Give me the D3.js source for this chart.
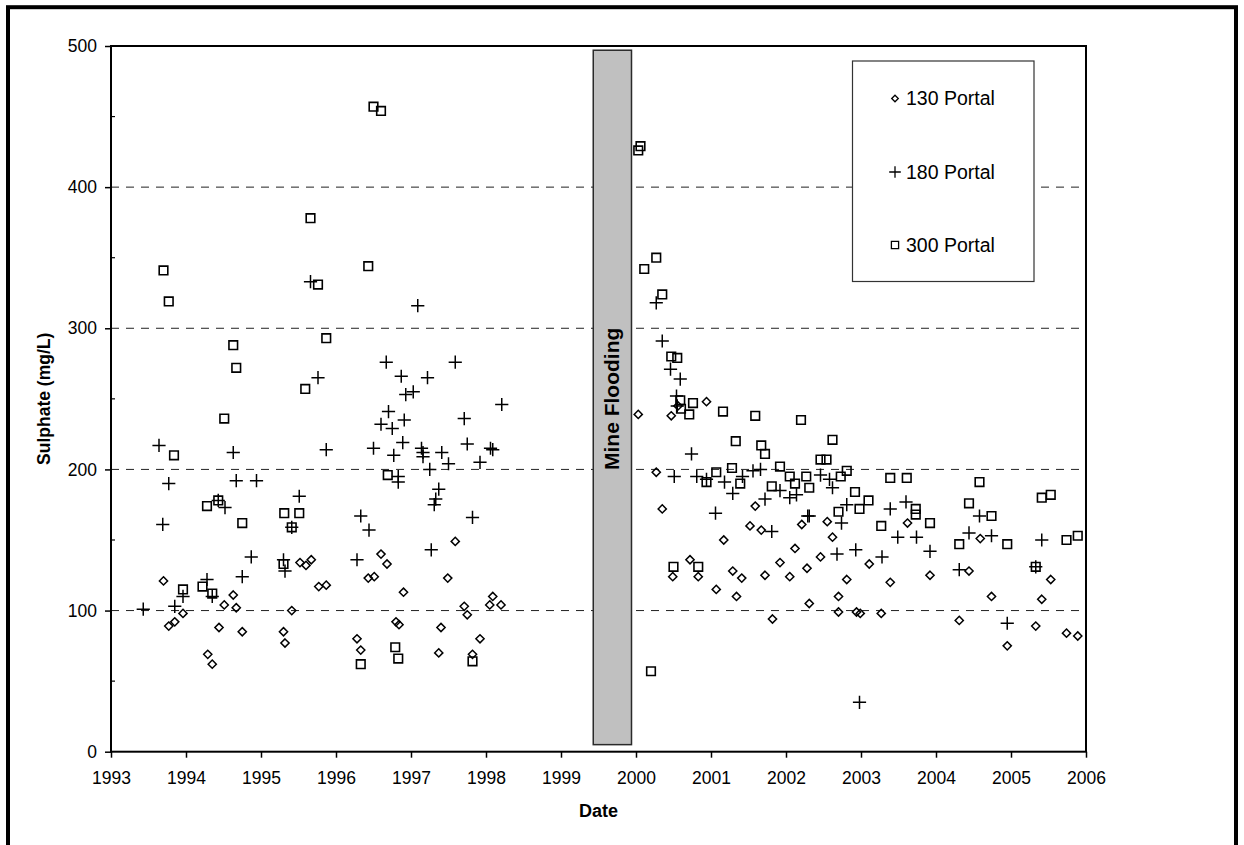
<!DOCTYPE html>
<html>
<head>
<meta charset="utf-8">
<script src="https://cdn.jsdelivr.net/npm/d3@7"></script>
<style>
  html, body { margin: 0; padding: 0; background: #fff; }
  svg { display: block; font-family: "Liberation Sans", Arial, sans-serif; }
</style>
</head>
<body>
<svg id="chart" width="1244" height="845"></svg>
<script>
// ---------- data ----------
const seriesNames = ["130 Portal", "180 Portal", "300 Portal"];

const portal130Dates = [1993.70,1993.77,1993.85,1993.96,1994.29,1994.35,1994.44,1994.51,1994.63,1994.67,1994.75,
  1995.30,1995.32,1995.41,1995.52,1995.60,1995.67,1995.77,1995.87,1996.28,1996.33,1996.43,1996.51,1996.60,1996.68,
  1996.80,1996.84,1996.90,1997.37,1997.40,1997.49,1997.59,1997.71,1997.75,1997.82,1997.92,1998.05,1998.09,1998.20,
  2000.03,2000.27,2000.35,2000.47,2000.49,2000.56,2000.72,2000.83,2000.94,2001.07,2001.17,2001.29,2001.34,2001.41,
  2001.52,2001.59,2001.67,2001.72,2001.82,2001.92,2002.05,2002.12,2002.21,2002.28,2002.31,2002.46,2002.55,2002.62,
  2002.70,2002.70,2002.81,2002.94,2002.99,2003.11,2003.27,2003.39,2003.62,2003.92,2004.31,2004.44,2004.59,2004.74,
  2004.95,2005.33,2005.41,2005.53,2005.74,2005.89];
const portal130Values = [121,89,92,98,69,62,88,104,111,102,85,
  85,77,100,134,132,136,117,118,80,72,123,124,140,133,
  92,90,113,70,88,123,149,103,97,69,80,104,110,104,
  239,198,172,238,124,245,136,124,248,115,150,128,110,123,
  160,174,157,125,94,134,124,144,161,130,105,138,163,152,
  110,99,122,99,98,133,98,120,162,125,93,128,151,110,
  75,89,108,122,84,82];

const portal180Dates = [1993.43,1993.64,1993.69,1993.77,1993.85,1993.96,1994.28,1994.35,1994.43,1994.52,1994.63,
  1994.67,1994.75,1994.87,1994.94,1995.30,1995.32,1995.41,1995.51,1995.66,1995.76,1995.87,1996.28,1996.33,1996.44,
  1996.50,1996.60,1996.67,1996.70,1996.75,1996.77,1996.83,1996.83,1996.87,1996.89,1996.91,1996.93,1997.03,1997.09,
  1997.14,1997.16,1997.16,1997.22,1997.25,1997.27,1997.31,1997.33,1997.37,1997.41,1997.50,1997.59,1997.71,1997.75,
  1997.82,1997.92,1998.06,1998.09,1998.21,
  2000.27,2000.35,2000.46,2000.51,2000.54,2000.55,2000.59,2000.74,2000.81,2000.94,2001.06,2001.18,2001.29,2001.42,
  2001.56,2001.66,2001.72,2001.81,2001.92,2002.05,2002.14,2002.29,2002.31,2002.46,2002.58,2002.62,2002.68,2002.74,
  2002.81,2002.93,2002.98,2003.28,2003.39,2003.49,2003.60,2003.74,2003.92,2004.31,2004.44,2004.58,2004.74,2004.95,
  2005.33,2005.41];
const portal180Values = [101,217,161,190,103,110,122,110,178,173,212,
  192,124,138,192,136,128,159,181,333,265,214,136,167,157,
  215,232,276,241,229,210,195,191,266,219,235,253,255,316,
  215,212,209,265,200,143,175,179,186,212,204,276,236,218,
  166,205,215,214,246,
  318,291,271,195,252,245,264,211,195,193,169,191,183,195,
  199,200,179,156,185,180,182,167,167,196,193,187,140,162,
  175,143,35,138,172,152,177,152,142,129,155,167,153,91,
  131,150];

const portal300Dates = [1993.70,1993.77,1993.84,1993.96,1994.22,1994.28,1994.35,1994.43,1994.51,1994.63,1994.67,
  1994.75,1995.30,1995.31,1995.41,1995.51,1995.59,1995.66,1995.76,1995.87,1996.33,1996.43,1996.50,1996.60,1996.69,
  1996.79,1996.83,1997.82,
  2000.03,2000.06,2000.11,2000.20,2000.27,2000.35,2000.47,2000.50,2000.55,2000.59,2000.60,2000.71,2000.76,2000.83,
  2000.94,2001.07,2001.16,2001.28,2001.33,2001.39,2001.59,2001.67,2001.72,2001.81,2001.92,2002.05,2002.12,2002.20,
  2002.27,2002.31,2002.46,2002.54,2002.62,2002.70,2002.73,2002.81,2002.92,2002.98,2003.10,2003.27,2003.39,2003.61,
  2003.73,2003.73,2003.92,2004.31,2004.44,2004.58,2004.74,2004.95,2005.33,2005.41,2005.53,2005.74,2005.89];
const portal300Values = [341,319,210,115,117,174,112,178,236,288,272,
  162,133,169,159,169,257,378,331,293,62,344,457,454,196,
  74,66,64,
  426,429,342,57,350,324,280,131,279,249,243,239,247,131,
  191,198,241,201,220,190,238,217,211,188,202,195,190,235,
  195,187,207,207,221,170,195,199,184,172,178,160,194,194,
  172,168,162,147,176,191,167,147,131,180,182,150,153];

const xTickLabels = [1993,1994,1995,1996,1997,1998,1999,2000,2001,2002,2003,2004,2005,2006];
const yTickLabels = [0,100,200,300,400,500];
const yMinorTicks = [50,150,250,350,450];
const gridValues = [100,200,300,400];
const floodPeriod = [1999.43, 1999.94];
const floodRange = [5, 497];
const floodLabel = "Mine Flooding";
const xTitle = "Date";
const yTitle = "Sulphate (mg/L)";

// ---------- layout ----------
const svg = d3.select("#chart");
const pLeft = 111, pRight = 1086, pTop = 46, pBottom = 751.7;
const x = d3.scaleLinear().domain([1993, 2006]).range([pLeft, pRight]);
const y = d3.scaleLinear().domain([0, 500]).range([pBottom, pTop]);
const FONT = '"Liberation Sans", Arial, sans-serif';

// outer frame
svg.append("rect").attr("x", 8).attr("y", 7.2).attr("width", 1228).attr("height", 900)
  .attr("fill", "none").attr("stroke", "#000").attr("stroke-width", 4);

// gridlines
svg.append("g").selectAll("line").data(gridValues).join("line")
  .attr("x1", pLeft).attr("x2", pRight)
  .attr("y1", d => y(d)).attr("y2", d => y(d))
  .attr("stroke", "#222").attr("stroke-width", 1).attr("stroke-dasharray", "8,7");

// flood box
svg.append("rect")
  .attr("x", x(floodPeriod[0])).attr("width", x(floodPeriod[1]) - x(floodPeriod[0]))
  .attr("y", y(floodRange[1])).attr("height", y(floodRange[0]) - y(floodRange[1]))
  .attr("fill", "#c0c0c0").attr("stroke", "#2a2a2a").attr("stroke-width", 1.5);
svg.append("text")
  .attr("transform", `translate(${(x(floodPeriod[0]) + x(floodPeriod[1])) / 2 + 7},${(pTop + pBottom) / 2}) rotate(-90)`)
  .attr("text-anchor", "middle")
  .attr("font-family", FONT).attr("font-weight", "bold").attr("font-size", 21)
  .attr("fill", "#000").text(floodLabel);

// marker shapes
function diamond(s) { return `M0,${-s}L${s},0L0,${s}L${-s},0Z`; }
function square(s) { return `M${-s},${-s}H${s}V${s}H${-s}Z`; }
function cross(s) { return `M${-s},0H${s}M0,${-s}V${s}`; }
const shapes = [
  {path: diamond(4.1), legend: diamond(3.3), sw: 1.5},
  {path: cross(6.6), legend: cross(5.8), sw: 1.5},
  {path: square(4.3), legend: square(3.6), sw: 1.6}
];

const seriesData = [
  d3.zip(portal130Dates, portal130Values),
  d3.zip(portal180Dates, portal180Values),
  d3.zip(portal300Dates, portal300Values)
];

seriesData.forEach((data, i) => {
  svg.append("g").selectAll("path").data(data).join("path")
    .attr("transform", d => `translate(${x(d[0])},${y(d[1])})`)
    .attr("d", shapes[i].path)
    .attr("fill", "none").attr("stroke", "#000").attr("stroke-width", shapes[i].sw);
});

// axes
const xAxis = d3.axisBottom(x).tickValues(xTickLabels).tickFormat(d3.format("d"))
  .tickSize(6).tickPadding(14);
const gx = svg.append("g").attr("transform", `translate(0,${pBottom})`).call(xAxis);
gx.select(".domain").remove();
gx.selectAll("line").attr("stroke", "#000").attr("stroke-width", 1.5);
gx.selectAll("text").attr("font-family", FONT).attr("font-size", 17.5).attr("fill", "#000");

const yAxis = d3.axisLeft(y).tickValues(yTickLabels).tickFormat(d3.format("d"))
  .tickSize(6).tickPadding(8);
const gy = svg.append("g").attr("transform", `translate(${pLeft},0)`).call(yAxis);
gy.select(".domain").remove();
gy.selectAll("line").attr("stroke", "#000").attr("stroke-width", 1.5);
gy.selectAll("text").attr("font-family", FONT).attr("font-size", 17.5).attr("fill", "#000");

svg.append("g").selectAll("line").data(yMinorTicks).join("line")
  .attr("x1", pLeft).attr("x2", pLeft + 4)
  .attr("y1", d => y(d)).attr("y2", d => y(d))
  .attr("stroke", "#000").attr("stroke-width", 1.2);

// plot frame
svg.append("rect").attr("x", pLeft).attr("y", pTop).attr("width", pRight - pLeft).attr("height", pBottom - pTop)
  .attr("fill", "none").attr("stroke", "#000").attr("stroke-width", 2);

// axis titles
svg.append("text").attr("x", (pLeft + pRight) / 2).attr("y", 817)
  .attr("text-anchor", "middle").attr("font-family", FONT).attr("font-weight", "bold")
  .attr("font-size", 18).text(xTitle);
svg.append("text").attr("transform", `translate(50,${(pTop + pBottom) / 2}) rotate(-90)`)
  .attr("text-anchor", "middle").attr("font-family", FONT).attr("font-weight", "bold")
  .attr("font-size", 17.5).text(yTitle);

// legend
const lg = svg.append("g");
lg.append("rect").attr("x", 852.5).attr("y", 61).attr("width", 181.5).attr("height", 220.5)
  .attr("fill", "#fff").attr("stroke", "#333").attr("stroke-width", 1.2);
const legendY = [98.5, 172, 245];
seriesNames.forEach((name, i) => {
  lg.append("path").attr("transform", `translate(895,${legendY[i]})`)
    .attr("d", shapes[i].legend).attr("fill", "none").attr("stroke", "#000").attr("stroke-width", 1.3);
  lg.append("text").attr("x", 906).attr("y", legendY[i]).attr("dy", "0.35em")
    .attr("font-family", FONT).attr("font-size", 19.5).attr("fill", "#000").text(name);
});
</script>
</body>
</html>
